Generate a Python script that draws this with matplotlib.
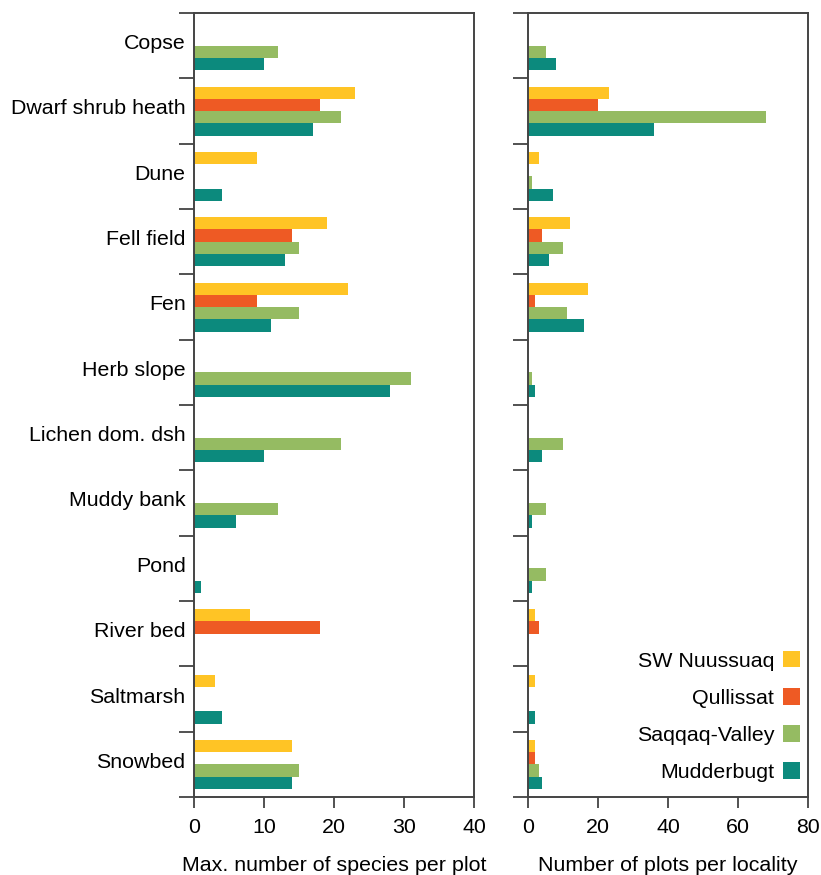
import numpy as np
import matplotlib
matplotlib.use("Agg")
import matplotlib.pyplot as plt
import matplotlib.transforms as mtransforms
from matplotlib.patches import Patch

plt.rcParams["font.family"] = ["Liberation Sans", "DejaVu Sans"]
plt.rcParams["font.size"] = 15.4

habitats = ["Copse", "Dwarf shrub heath", "Dune", "Fell field", "Fen", "Herb slope",
            "Lichen dom. dsh", "Muddy bank", "Pond", "River bed", "Saltmarsh", "Snowbed"]
localities = ["SW Nuussuaq", "Qullissat", "Saqqaq-Valley", "Mudderbugt"]
colors = ["#FFC425", "#EE5A24", "#95BB62", "#0C8A7D"]

# max. number of species per plot
species_sw = [0, 23, 9, 19, 22, 0, 0, 0, 0, 8, 3, 14]
species_qu = [0, 18, 0, 14, 9, 0, 0, 0, 0, 18, 0, 0]
species_sa = [12, 21, 0, 15, 15, 31, 21, 12, 0, 0, 0, 15]
species_mu = [10, 17, 4, 13, 11, 28, 10, 6, 1, 0, 4, 14]

# number of plots per locality
plots_sw = [0, 23, 3, 12, 17, 0, 0, 0, 0, 2, 2, 2]
plots_qu = [0, 20, 0, 4, 2, 0, 0, 0, 0, 3, 0, 2]
plots_sa = [5, 68, 1, 10, 11, 1, 10, 5, 5, 0, 0, 3]
plots_mu = [8, 36, 7, 6, 16, 2, 4, 1, 1, 0, 2, 4]

fig = plt.figure(figsize=(8.21, 8.75), dpi=100)
ax1 = fig.add_axes([194 / 821, 1 - 797 / 875, 280 / 821, 784 / 875])
ax2 = fig.add_axes([528 / 821, 1 - 797 / 875, 280 / 821, 784 / 875])

y = np.arange(len(habitats))
h = 0.1875
offsets = (np.arange(4) - 1.5) * h


def draw(ax, series, xmax, step, xlabel):
    for s, c, off in zip(series, colors, offsets):
        ax.barh(y + off, s, height=h, color=c, linewidth=0)
    ax.set_ylim(len(habitats) - 0.5, -0.5)
    ax.set_xlim(0, xmax)
    ax.set_xticks(np.arange(0, xmax + 1, step))
    ax.set_yticks(np.arange(-0.5, len(habitats)), minor=True)
    ax.tick_params(axis="y", which="minor", length=11, width=1.2, color="#333333")
    ax.tick_params(axis="y", which="major", length=0, pad=6)
    ax.tick_params(axis="x", length=8, width=1.2, color="#333333", pad=7)
    for sp in ax.spines.values():
        sp.set_linewidth(1.4)
        sp.set_color("#444444")
    ax.set_xlabel(xlabel, labelpad=14)


draw(ax1, [species_sw, species_qu, species_sa, species_mu], 40, 10,
     "Max. number of species per plot")
draw(ax2, [plots_sw, plots_qu, plots_sa, plots_mu], 80, 20,
     "Number of plots per locality")

ax1.set_yticks(y)
ax1.set_yticklabels(habitats)
shift = mtransforms.ScaledTranslation(0, 4 / 100, fig.dpi_scale_trans)
for lbl in ax1.get_yticklabels():
    lbl.set_transform(lbl.get_transform() + shift)
ax2.set_yticks([])
ax2.set_yticks(np.arange(-0.5, len(habitats)), minor=True)

handles = [Patch(facecolor=c, edgecolor="none") for c in colors]
ax2.legend(handles, localities, loc="lower right", bbox_to_anchor=(0.971, 0.019),
           frameon=False, markerfirst=False, handlelength=0.8, handleheight=0.8,
           handletextpad=0.4, labelspacing=0.82, borderaxespad=0, borderpad=0)

fig.savefig("out.png", dpi=100)
